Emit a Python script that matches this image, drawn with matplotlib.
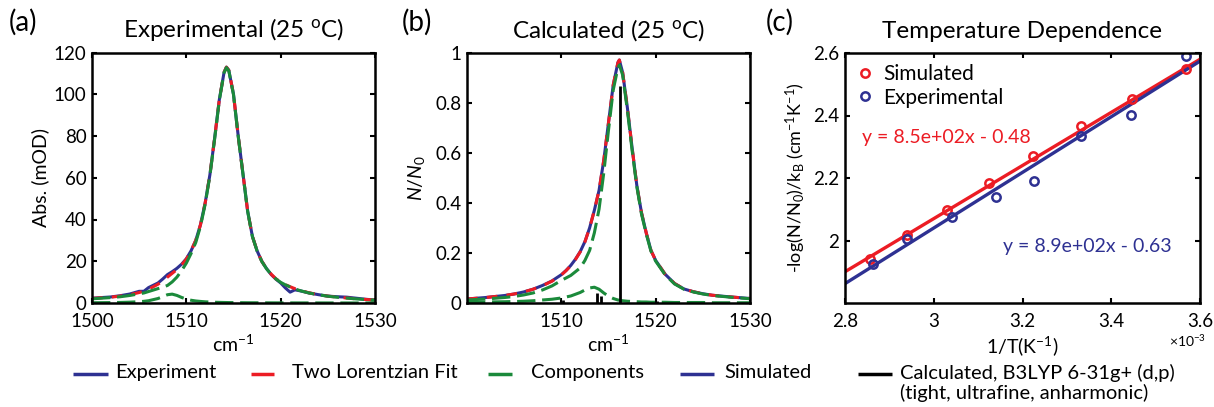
import numpy as np
import matplotlib
matplotlib.use("Agg")
import matplotlib.pyplot as plt
from matplotlib.lines import Line2D

plt.rcParams['font.family'] = ['Lato', 'DejaVu Sans']
plt.rcParams['mathtext.fontset'] = 'custom'
plt.rcParams['mathtext.rm'] = 'Lato'
plt.rcParams['mathtext.it'] = 'Lato:italic'

# ---- panel (a): experimental spectrum ----
a_x = [1500, 1501, 1502, 1503, 1504, 1505, 1505.5, 1506, 1507, 1507.5, 1508, 1508.5,
       1509, 1509.5, 1510, 1510.5, 1511, 1511.5, 1512, 1512.5, 1513, 1513.5, 1514,
       1514.25, 1514.5, 1515, 1515.5, 1516, 1516.5, 1517, 1517.5, 1518, 1518.5, 1519,
       1519.5, 1520, 1520.5, 1521, 1521.5, 1522, 1523, 1524, 1525, 1526, 1527, 1528,
       1529, 1530]
a_exp = [2.3, 2.6, 2.9, 3.5, 4.3, 5.6, 5.6, 7.4, 9.6, 11.5, 13.6, 15.0,
         16.6, 18.6, 21.2, 25.0, 30.0, 37.5, 48.0, 61.5, 79.0, 97.5, 110.5,
         113.0, 111.5, 100.0, 80.0, 62.0, 44.0, 32.0, 25.0, 20.0, 16.5, 13.6,
         11.4, 9.6, 7.2, 5.2, 6.3, 5.9, 4.8, 4.0, 3.3, 3.0, 2.8, 2.3,
         1.8, 1.4]
a_fit = [2.2, 2.5, 2.8, 3.3, 4.0, 5.0, 5.7, 6.6, 9.0, 10.6, 12.4, 14.2,
         16.0, 18.2, 21.0, 25.0, 30.0, 37.5, 48.0, 61.5, 79.0, 97.5, 110.5,
         113.0, 111.5, 100.0, 80.0, 62.0, 44.0, 32.0, 25.0, 20.0, 16.5, 13.8,
         11.6, 10.0, 8.8, 7.8, 6.9, 6.1, 4.9, 4.0, 3.3, 2.8, 2.4, 2.0,
         1.7, 1.4]
a_comp1 = [2.0, 2.3, 2.6, 3.0, 3.6, 4.4, 4.8, 5.5, 6.9, 7.6, 8.4, 10.1,
           12.4, 15.5, 19.1, 23.7, 29.0, 36.8, 47.4, 61.1, 78.6, 97.2, 110.3,
           112.8, 111.3, 99.8, 79.8, 61.9, 43.9, 31.9, 24.9, 19.9, 16.4, 13.7,
           11.5, 9.9, 8.7, 7.7, 6.8, 6.0, 4.8, 3.95, 3.25, 2.75, 2.35, 1.95,
           1.65, 1.35]
a_comp2 = [0.12, 0.16, 0.2, 0.27, 0.4, 0.62, 0.8, 1.09, 2.15, 3.04, 3.97, 4.25,
           3.63, 2.66, 1.86, 1.32, 0.97, 0.75, 0.57, 0.45, 0.36, 0.3, 0.25,
           0.23, 0.21, 0.18, 0.16, 0.14, 0.12, 0.11, 0.1, 0.09, 0.08, 0.07,
           0.065, 0.06, 0.055, 0.05, 0.047, 0.045, 0.04, 0.035, 0.03, 0.027, 0.024, 0.022,
           0.02, 0.018]

# ---- panel (b): calculated spectrum ----
b_x = [1500, 1502, 1504, 1505, 1506, 1507, 1508, 1509, 1510, 1510.5, 1511, 1511.5,
       1512, 1512.5, 1513, 1513.5, 1514, 1514.5, 1515, 1515.5, 1516, 1516.15, 1516.5,
       1517, 1517.5, 1518, 1518.5, 1519, 1519.5, 1520, 1521, 1522, 1523, 1524, 1525,
       1526, 1528, 1530]
b_sim = [0.016, 0.022, 0.030, 0.036, 0.044, 0.055, 0.070, 0.088, 0.113, 0.130, 0.150, 0.175,
         0.205, 0.245, 0.30, 0.37, 0.45, 0.57, 0.72, 0.87, 0.96, 0.97, 0.92,
         0.78, 0.62, 0.47, 0.36, 0.28, 0.21, 0.17, 0.115, 0.078, 0.056, 0.045, 0.037,
         0.031, 0.024, 0.018]
b_fit = [0.016, 0.022, 0.030, 0.036, 0.044, 0.055, 0.069, 0.087, 0.112, 0.129, 0.149, 0.174,
         0.204, 0.244, 0.30, 0.37, 0.45, 0.57, 0.72, 0.87, 0.96, 0.97, 0.92,
         0.78, 0.62, 0.47, 0.36, 0.28, 0.21, 0.17, 0.115, 0.078, 0.056, 0.045, 0.037,
         0.031, 0.024, 0.018]
b_comp1 = [0.012, 0.016, 0.022, 0.026, 0.032, 0.040, 0.052, 0.068, 0.090, 0.100, 0.110, 0.125,
           0.140, 0.170, 0.210, 0.280, 0.375, 0.52, 0.69, 0.85, 0.94, 0.95, 0.91,
           0.77, 0.61, 0.465, 0.355, 0.276, 0.207, 0.167, 0.113, 0.076, 0.055, 0.044, 0.036,
           0.030, 0.023, 0.017]
b_comp2 = [0.003, 0.004, 0.005, 0.006, 0.007, 0.009, 0.012, 0.015, 0.020, 0.024, 0.028, 0.035,
           0.042, 0.052, 0.060, 0.063, 0.055, 0.040, 0.027, 0.018, 0.012, 0.011, 0.009,
           0.007, 0.006, 0.005, 0.004, 0.004, 0.003, 0.003, 0.003, 0.002, 0.002, 0.002, 0.002,
           0.001, 0.001, 0.001]
stick_x = [1510.2, 1513.8, 1514.2, 1516.2, 1520.1]
stick_h = [0.012, 0.040, 0.028, 0.865, 0.008]

# ---- panel (c): temperature dependence (1/T in 1e-3 K^-1) ----
sim_invT = [2.856, 2.940, 3.029, 3.125, 3.224, 3.332, 3.446, 3.568]
sim_val = [1.940, 2.018, 2.098, 2.184, 2.272, 2.365, 2.454, 2.550]
exp_invT = [2.864, 2.940, 3.040, 3.140, 3.227, 3.332, 3.445, 3.568]
exp_val = [1.924, 2.005, 2.075, 2.139, 2.191, 2.333, 2.402, 2.591]
sim_fit = [8.5e2, -0.48]
exp_fit = [8.9e2, -0.63]

# ---- bottom legend ----
leg_labels = ['Experiment', 'Two Lorentzian Fit', 'Components', 'Simulated',
              'Calculated, B3LYP 6-31g+ (d,p)\n(tight, ultrafine, anharmonic)']

blue = '#2e3192'
red = '#ec1c24'
green = '#1b8a3b'

W, H = 1214, 407
fig = plt.figure(figsize=(W / 100, H / 100), dpi=100)


def box(px_left, px_right, px_top, px_bottom):
    return [px_left / W, 1 - px_bottom / H, (px_right - px_left) / W, (px_bottom - px_top) / H]


def style(ax):
    ax.tick_params(direction='in', top=True, right=True, length=3.5, width=1.5,
                   labelsize=13.5, pad=4)
    ax.tick_params(axis='x', pad=7)
    for s in ax.spines.values():
        s.set_linewidth(1.8)


axa = fig.add_axes(box(92, 375, 52.5, 303))
axb = fig.add_axes(box(467, 750, 52.5, 303))
axc = fig.add_axes(box(845, 1200, 53, 303))

lw = 2.2
# (a)
axa.plot(a_x, a_exp, color=blue, lw=lw)
axa.plot(a_x, a_fit, color=red, lw=lw, dashes=(3.5, 3))
axa.plot(a_x, a_comp1, color=green, lw=lw, dashes=(6, 2.2))
axa.plot(a_x, a_comp2, color=green, lw=lw, dashes=(6, 2.2))
axa.set_xlim(1500, 1530)
axa.set_ylim(0, 120)
axa.set_xticks([1500, 1510, 1520, 1530])
axa.set_yticks([0, 20, 40, 60, 80, 100, 120])
axa.set_title(r'Experimental (25 $^{\mathrm{o}}$C)', fontsize=17.5, pad=11)
axa.set_xlabel('cm$^{-1}$', fontsize=14, labelpad=3)
axa.set_ylabel('Abs. (mOD)', fontsize=14, labelpad=3)
style(axa)

# (b)
axb.plot(b_x, b_sim, color=blue, lw=lw)
axb.plot(b_x, b_fit, color=red, lw=lw, dashes=(3.5, 3))
axb.plot(b_x, b_comp1, color=green, lw=lw, dashes=(6, 2.2))
axb.plot(b_x, b_comp2, color=green, lw=lw, dashes=(6, 2.2))
axb.vlines(stick_x, 0, stick_h, color='black', lw=2)
axb.set_xlim(1500, 1530)
axb.set_ylim(0, 1)
axb.set_xticks([1510, 1520, 1530])
axb.set_yticks([0, 0.2, 0.4, 0.6, 0.8, 1])
axb.set_yticklabels(['0', '0.2', '0.4', '0.6', '0.8', '1'])
axb.set_title(r'Calculated (25 $^{\mathrm{o}}$C)', fontsize=17.5, pad=11)
axb.set_xlabel('cm$^{-1}$', fontsize=14, labelpad=3)
axb.set_ylabel('$N/N_0$', fontsize=14, labelpad=6)
style(axb)

# (c)
sx = np.array(sim_invT) * 1e-3
ex = np.array(exp_invT) * 1e-3
axc.set_xlim(2.8e-3, 3.6e-3)
axc.set_ylim(1.8, 2.6)
xl = np.array(axc.get_xlim())
axc.plot(xl, sim_fit[0] * xl + sim_fit[1], color=red, lw=2.4)
axc.plot(xl, exp_fit[0] * xl + exp_fit[1], color=blue, lw=2.4)
axc.plot(sx, sim_val, 'o', mfc='none', mec=red, mew=1.8, ms=6, label='Simulated')
axc.plot(ex, exp_val, 'o', mfc='none', mec=blue, mew=1.8, ms=6, label='Experimental')
axc.set_xticks([2.8e-3, 3.0e-3, 3.2e-3, 3.4e-3, 3.6e-3])
axc.set_xticklabels(['2.8', '3', '3.2', '3.4', '3.6'])
axc.set_yticks([2.0, 2.2, 2.4, 2.6])
axc.set_yticklabels(['2', '2.2', '2.4', '2.6'])
axc.set_title('Temperature Dependence', fontsize=17.5, pad=11)
axc.set_xlabel('1/T(K$^{-1}$)', fontsize=14, labelpad=3)
axc.set_ylabel(r'-log(N/N$_{\mathrm{0}}$)/k$_{\mathrm{B}}$ (cm$^{-1}$K$^{-1}$)', fontsize=13,
               labelpad=4)
axc.text(2.838e-3, 2.329, 'y = 8.5e+02x - 0.48', color=red, fontsize=14, va='center')
axc.text(3.156e-3, 1.98, 'y = 8.9e+02x - 0.63', color=blue, fontsize=14, va='center')
fig.text(1188 / W, 1 - 341 / H, r'$\times$10$^{-3}$', fontsize=10, ha='center', va='center')
axc.legend(loc='upper left', frameon=False, fontsize=15, handlelength=0.8,
           handletextpad=0.5, labelspacing=0.15, borderaxespad=0.15)
style(axc)

# panel letters
for lbl, xp in [('(a)', 9), ('(b)', 402), ('(c)', 766)]:
    fig.text(xp / W, 1 - 22 / H, lbl, fontsize=20, va='center', ha='left')

# shared key along the bottom: (line start, line end, text start) in pixels
key_pos = [(72.5, 108, 115), (251, 274, 292), (488, 512, 531), (680, 714, 724.5),
           (858, 892, 900)]
key_col = [blue, red, green, blue, 'black']
row_y = 1 - 374 / H
for (x0, x1, xt), col, lab in zip(key_pos, key_col, leg_labels):
    fig.add_artist(Line2D([x0 / W, x1 / W], [row_y, row_y], color=col, lw=2.5,
                          solid_capstyle='butt', transform=fig.transFigure))
    fig.text(xt / W, 1 - 364 / H, lab, fontsize=14.5, ha='left', va='top',
             linespacing=1.15)

fig.savefig('out.png', dpi=100)
